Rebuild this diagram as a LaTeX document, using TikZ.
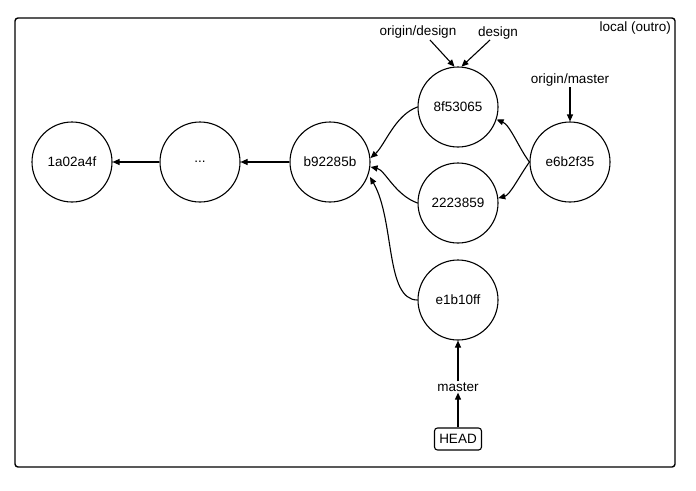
\documentclass[tikz,border=0pt]{standalone}
\usepackage{fontspec}
\setmainfont{Liberation Sans}
\usetikzlibrary{arrows.meta}
\begin{document}
\begin{tikzpicture}[x=1pt,y=-1pt,
  commit/.style={draw, circle, minimum size=80pt, inner sep=0pt, line width=1.1pt, font=\fontsize{13.5}{15}\selectfont},
  lbl/.style={inner sep=1pt, font=\fontsize{13.5}{15}\selectfont},
  arr/.style={line width=1.1pt, -{Triangle[length=7pt,width=6pt]}}]
\useasboundingbox (0,0) rectangle (696,490);
\draw[line width=1.4pt, rounded corners=3pt] (15,18) rectangle (675,467);
\node[lbl, anchor=north east] (loc) at (672,21) {local (outro)};
\node[commit] (c1) at (72,162) {1a02a4f};
\node[commit] (c2) at (200,162) {...};
\node[commit] (c3) at (330,162) {b92285b};
\node[commit] (c4) at (458,107) {8f53065};
\node[commit] (c5) at (458,203) {2223859};
\node[commit] (c6) at (458,300) {e1b10ff};
\node[commit] (c7) at (570,162) {e6b2f35};
\node[lbl] (od) at (418,32) {origin/design};
\node[lbl] (d) at (498,33) {design};
\node[lbl] (om) at (570,80) {origin/master};
\node[lbl] (m) at (458,387) {master};
\node[lbl, draw, line width=1.1pt, rounded corners=3pt, minimum width=47pt, minimum height=22pt] (h) at (458,439) {HEAD};
\draw[arr] (c2) -- (c1);
\draw[arr] (c3) -- (c2);
\draw[arr] (c4.west) .. controls (395,115) and (385,145) .. (c3.east |- 0,158);
\draw[arr] (c5.west) .. controls (395,195) and (385,170) .. (c3.east |- 0,167);
\draw[arr] (c6.west) .. controls (385,300) and (395,220) .. (370,177);
\draw[arr] (c7.west) .. controls (520,150) and (510,125) .. (c4.-18);
\draw[arr] (c7.west) .. controls (520,175) and (510,195) .. (c5.7);
\draw[arr] (430,40) -- (c4.95);
\draw[arr] (490,40) -- (c4.85);
\draw[arr] (om) -- (c7);
\draw[arr] (m) -- (c6);
\draw[arr] (h) -- (m);
\end{tikzpicture}
\end{document}
